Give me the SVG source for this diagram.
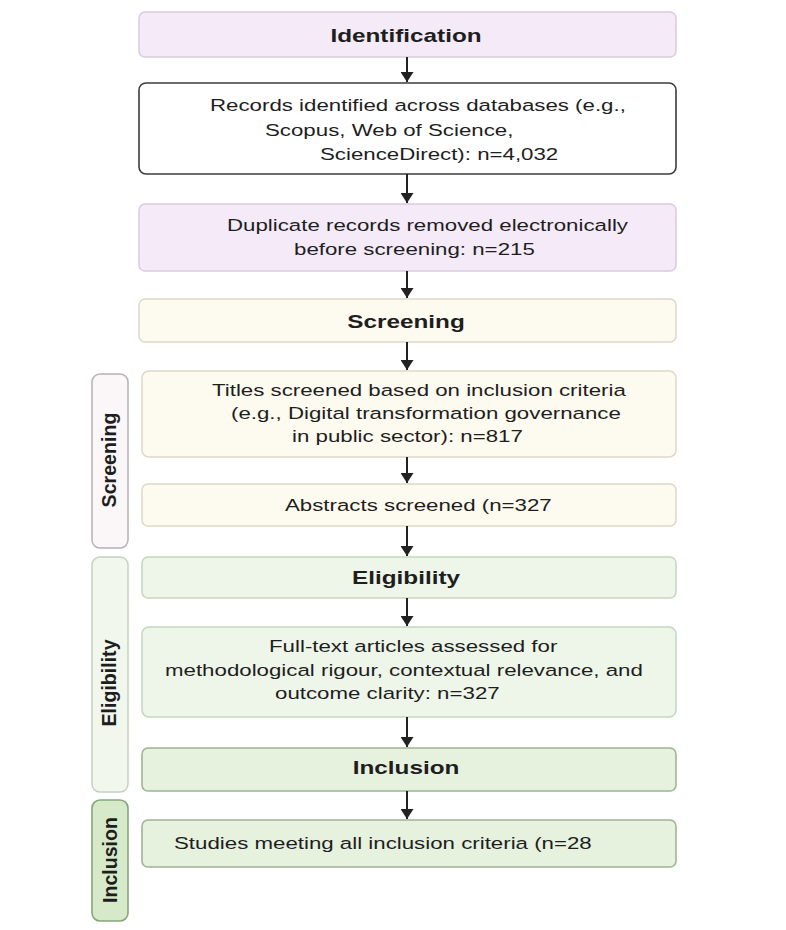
<svg xmlns="http://www.w3.org/2000/svg" width="786" height="930" viewBox="0 0 786 930">
<style>
text{font-family:"Liberation Sans",Arial,Helvetica,sans-serif;fill:#1e1e1e}
.t{font-size:16.5px}
.b{font-size:18px;font-weight:bold;text-anchor:middle}
.s{font-size:19.6px;font-weight:bold;text-anchor:middle}
.lav{fill:#f4eaf8;stroke:#d8cce0;stroke-width:1.5}
.wht{fill:#ffffff;stroke:#3c3c3c;stroke-width:1.6}
.crm{fill:#fdfaef;stroke:#ddd8c8;stroke-width:1.5}
.grn{fill:#eef6e9;stroke:#c6d6bf;stroke-width:1.5}
.grn2{fill:#e6f1de;stroke:#9fb396;stroke-width:1.6}
.side1{fill:#fbf6f8;stroke:#b7b0b8;stroke-width:1.5}
.side2{fill:#f1f7ed;stroke:#c4d2c0;stroke-width:1.5}
.side3{fill:#d6eac9;stroke:#86a57a;stroke-width:1.6}
.con line{stroke:#222;stroke-width:2;marker-end:url(#arr)}
</style>
<defs>
<marker id="arr" markerWidth="10" markerHeight="13" refX="10" refY="6.5" orient="auto" markerUnits="userSpaceOnUse">
<path d="M0,0 L10,6.5 L0,13 z" fill="#222"/>
</marker>
</defs>
<rect width="786" height="930" fill="#ffffff"/>

<g id="side-screening">
<rect class="side1" x="92" y="374" width="36" height="174" rx="8"/>
<text class="s" transform="translate(115.5,460) rotate(-90)">Screening</text>
</g>
<g id="side-eligibility">
<rect class="side2" x="92" y="557" width="36" height="235" rx="8"/>
<text class="s" transform="translate(115.5,683) rotate(-90)">Eligibility</text>
</g>
<g id="side-inclusion">
<rect class="side3" x="92" y="800" width="36" height="121" rx="8"/>
<text class="s" transform="translate(116.5,860) rotate(-90)">Inclusion</text>
</g>

<g id="identification">
<rect class="lav" x="139" y="12" width="537" height="45" rx="6"/>
<text class="b" transform="translate(406,42) scale(1.35,1)">Identification</text>
</g>
<g id="records">
<rect class="wht" x="139" y="83" width="537" height="91" rx="7"/>
<text class="t" transform="translate(210,111) scale(1.35,1)">Records identified across databases (e.g.,</text>
<text class="t" transform="translate(265,135.5) scale(1.35,1)">Scopus, Web of Science,</text>
<text class="t" transform="translate(320,160) scale(1.35,1)">ScienceDirect): n=4,032</text>
</g>
<g id="duplicates">
<rect class="lav" x="139" y="204" width="537" height="67" rx="6"/>
<text class="t" transform="translate(227,230.5) scale(1.35,1)">Duplicate records removed electronically</text>
<text class="t" transform="translate(294,254.5) scale(1.35,1)">before screening: n=215</text>
</g>
<g id="screening">
<rect class="crm" x="139" y="299" width="537" height="43" rx="6"/>
<text class="b" transform="translate(406,327.5) scale(1.35,1)">Screening</text>
</g>
<g id="titles">
<rect class="crm" x="142" y="371" width="534" height="86" rx="7"/>
<text class="t" transform="translate(212,395.5) scale(1.35,1)">Titles screened based on inclusion criteria</text>
<text class="t" transform="translate(231,418.5) scale(1.35,1)">(e.g., Digital transformation governance</text>
<text class="t" transform="translate(292,442) scale(1.35,1)">in public sector): n=817</text>
</g>
<g id="abstracts">
<rect class="crm" x="142" y="484" width="534" height="42" rx="6"/>
<text class="t" transform="translate(285,510.5) scale(1.35,1)">Abstracts screened (n=327</text>
</g>
<g id="eligibility">
<rect class="grn" x="142" y="557" width="534" height="41" rx="6"/>
<text class="b" transform="translate(406,583.5) scale(1.35,1)">Eligibility</text>
</g>
<g id="fulltext">
<rect class="grn" x="142" y="627" width="534" height="90" rx="7"/>
<text class="t" transform="translate(269,651.5) scale(1.35,1)">Full-text articles assessed for</text>
<text class="t" transform="translate(165,675.5) scale(1.35,1)">methodological rigour, contextual relevance, and</text>
<text class="t" transform="translate(275,699) scale(1.35,1)">outcome clarity: n=327</text>
</g>
<g id="inclusion">
<rect class="grn2" x="142" y="748" width="534" height="43" rx="6"/>
<text class="b" transform="translate(406,774) scale(1.35,1)">Inclusion</text>
</g>
<g id="studies">
<rect class="grn2" x="142" y="820" width="534" height="47" rx="6"/>
<text class="t" transform="translate(174,848.5) scale(1.35,1)">Studies meeting all inclusion criteria (n=28</text>
</g>

<g id="connectors" class="con">
<line x1="407" y1="57" x2="407" y2="82"/>
<line x1="407" y1="174" x2="407" y2="203"/>
<line x1="407" y1="271" x2="407" y2="298"/>
<line x1="407" y1="342" x2="407" y2="370"/>
<line x1="407" y1="457" x2="407" y2="483"/>
<line x1="407" y1="526" x2="407" y2="556"/>
<line x1="407" y1="598" x2="407" y2="626"/>
<line x1="407" y1="717" x2="407" y2="747"/>
<line x1="407" y1="791" x2="407" y2="819"/>
</g>
</svg>
